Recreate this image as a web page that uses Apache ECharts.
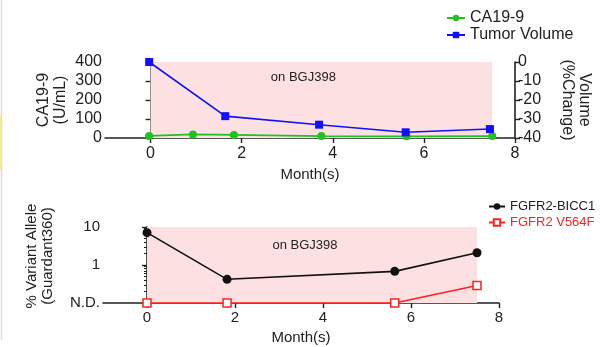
<!DOCTYPE html>
<html>
<head>
<meta charset="utf-8">
<script src="https://cdn.jsdelivr.net/npm/echarts@6/dist/echarts.min.js"></script>
<style>
  html, body { margin: 0; padding: 0; background: #fff; }
  #main { width: 613px; height: 347px; }
</style>
</head>
<body>
<div id="main"></div>
<script>
// top panel: CA19-9 (left axis) and tumor volume (right axis)
var caMonths = [-0.03, 0.93, 1.83, 3.75, 5.62, 7.5];
var caValues = [11, 19, 16, 10, 9, 10];
var volMonths = [-0.03, 1.64, 3.7, 5.6, 7.45];
var volChange = [0, -28.5, -33, -37, -35.3];

// bottom panel: % variant allele (0.1 = N.D.)
var bicc1Months = [0, 1.82, 5.63, 7.5];
var bicc1Values = [7.1, 0.42, 0.68, 2.1];
var v564fMonths = [0, 1.82, 5.63, 7.5];
var v564fValues = [0.1, 0.1, 0.1, 0.29];

var treatment = [0, 7.5];
var monthTicks = [0, 2, 4, 6, 8];

function pairs(xs, ys) {
    var out = [];
    for (var i = 0; i < xs.length; i++) out.push([xs[i], ys[i]]);
    return out;
}

var font = 'Liberation Sans, Arial, sans-serif';
var axisLine = { show: true, lineStyle: { color: '#222', width: 1.6 } };
var axisTick = { show: true, inside: false, length: 5, lineStyle: { color: '#222', width: 1.4 } };
var xTick = { show: true, inside: false, length: 5, lineStyle: { color: '#222', width: 1.4 }, customValues: monthTicks };

var pink = '#fde1e2';

var chart = echarts.init(document.getElementById('main'));

var option = {
    backgroundColor: '#fff',
    textStyle: { fontFamily: font },
    animation: false,
    graphic: [
        { type: 'line', shape: { x1: 1.5, y1: 0, x2: 1.5, y2: 340 }, style: { stroke: '#ddd', lineWidth: 1.5 } },
        { type: 'line', shape: { x1: 0.5, y1: 115, x2: 0.5, y2: 170 }, style: { stroke: '#f5f08a', lineWidth: 1.5 } }
    ],
    legend: [{
        data: ['CA19-9', 'Tumor Volume'],
        orient: 'vertical',
        left: 441,
        top: 5,
        itemWidth: 18,
        itemHeight: 8,
        itemGap: 1,
        textStyle: { fontSize: 16, color: '#222', fontFamily: font }
    }, {
        data: ['FGFR2-BICC1', { name: 'FGFR2 V564F', textStyle: { color: '#ff2020' } }],
        orient: 'vertical',
        left: 483,
        top: 195,
        itemWidth: 16,
        itemHeight: 8,
        itemGap: 3,
        textStyle: { fontSize: 13, color: '#222', fontFamily: font }
    }],
    grid: [
        { left: 105, right: 98, top: 62, height: 76 },
        { left: 103, right: 114, top: 227, height: 76 }
    ],
    xAxis: [{
        type: 'value', gridIndex: 0,
        min: -1, max: 8,
        name: 'Month(s)', nameLocation: 'middle', nameGap: 29,
        nameTextStyle: { fontSize: 15, color: '#222' },
        axisLine: axisLine, axisTick: xTick,
        axisLabel: { fontSize: 16, color: '#222', margin: 8, customValues: monthTicks },
        splitLine: { show: false }
    }, {
        type: 'value', gridIndex: 1,
        min: -1, max: 8,
        name: 'Month(s)', nameLocation: 'middle', nameGap: 27,
        nameTextStyle: { fontSize: 15, color: '#222' },
        axisLine: axisLine, axisTick: xTick,
        axisLabel: { fontSize: 15, color: '#222', margin: 7, customValues: monthTicks },
        splitLine: { show: false }
    }],
    yAxis: [{
        type: 'value', gridIndex: 0, position: 'left',
        min: 0, max: 400, interval: 100,
        name: 'CA19-9\n(U/mL)', nameLocation: 'middle', nameGap: 36, nameMoveOverlap: false,
        nameTextStyle: { fontSize: 16, color: '#222', lineHeight: 17 },
        axisLine: axisLine, axisTick: axisTick,
        axisLabel: { fontSize: 16, color: '#222', margin: 3 },
        splitLine: { show: false }
    }, {
        type: 'value', gridIndex: 0, position: 'right',
        min: -40, max: 0, interval: 10,
        name: 'Volume\n(%Change)', nameLocation: 'middle', nameGap: 44, nameRotate: -90,
        nameMoveOverlap: false,
        nameTextStyle: { fontSize: 16, color: '#222', lineHeight: 17 },
        axisLine: axisLine, axisTick: axisTick,
        axisLabel: { fontSize: 16, color: '#222', margin: 3 },
        splitLine: { show: false }
    }, {
        type: 'log', gridIndex: 1, logBase: 10,
        min: 0.1, max: 10,
        name: '% Variant Allele\n(Guardant360)', nameLocation: 'middle', nameGap: 47,
        nameMoveOverlap: false,
        nameTextStyle: { fontSize: 15, color: '#222', lineHeight: 16, padding: [0, 0, 0, 18] },
        axisLine: axisLine, axisTick: axisTick,
        minorTick: { show: true, splitNumber: 9, length: 3, lineStyle: { color: '#222' } },
        axisLabel: { fontSize: 15, color: '#222', margin: 3,
            formatter: function (v) { return v <= 0.1 ? 'N.D.' : String(v); } },
        splitLine: { show: false }
    }],
    series: [{
        name: 'CA19-9', type: 'line', xAxisIndex: 0, yAxisIndex: 0,
        data: pairs(caMonths, caValues),
        symbol: 'circle', symbolSize: 8,
        itemStyle: { color: '#1fc21f' },
        lineStyle: { color: '#1fc21f', width: 1.8 },
        z: 3,
        markArea: {
            silent: true,
            itemStyle: { color: pink },
            label: { show: true, position: 'insideTop', offset: [-18, 4], fontSize: 13, color: '#222',
                fontFamily: font },
            data: [[{ name: 'on BGJ398', xAxis: treatment[0] }, { xAxis: treatment[1] }]]
        }
    }, {
        name: 'Tumor Volume', type: 'line', xAxisIndex: 0, yAxisIndex: 1,
        data: pairs(volMonths, volChange),
        symbol: 'rect', symbolSize: 8,
        itemStyle: { color: '#1010ff' },
        lineStyle: { color: '#1010ff', width: 1.6 },
        z: 4
    }, {
        name: 'FGFR2-BICC1', type: 'line', xAxisIndex: 1, yAxisIndex: 2,
        data: pairs(bicc1Months, bicc1Values),
        symbol: 'circle', symbolSize: 9,
        itemStyle: { color: '#111' },
        lineStyle: { color: '#111', width: 1.6 },
        z: 4,
        markArea: {
            silent: true,
            itemStyle: { color: pink },
            label: { show: true, position: 'insideTop', offset: [-7, 7], fontSize: 13, color: '#222',
                fontFamily: font },
            data: [[{ name: 'on BGJ398', xAxis: treatment[0] }, { xAxis: treatment[1] }]]
        }
    }, {
        name: 'FGFR2 V564F', type: 'line', xAxisIndex: 1, yAxisIndex: 2,
        data: pairs(v564fMonths, v564fValues),
        symbol: 'rect', symbolSize: 8,
        itemStyle: { color: '#fff', borderColor: '#ff2020', borderWidth: 1.5 },
        lineStyle: { color: '#ff2020', width: 1.6 },
        z: 5
    }]
};

chart.setOption(option);
</script>
</body>
</html>
